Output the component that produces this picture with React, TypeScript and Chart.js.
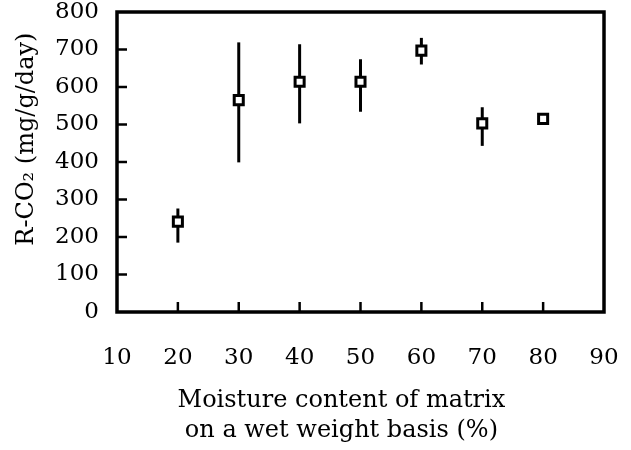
import { useEffect, useRef } from "react";
import { Chart, registerables } from "chart.js";

Chart.register(...registerables);

const moisture = [20, 30, 40, 50, 60, 70, 80];
const rco2 = [241, 565, 614, 614, 697, 503, 515];
const errLow: (number | null)[] = [185, 399, 503, 534, 660, 443, null];
const errHigh: (number | null)[] = [276, 719, 714, 674, 731, 546, null];
const xTickValues = [10, 20, 30, 40, 50, 60, 70, 80, 90];
const yTickValues = [0, 100, 200, 300, 400, 500, 600, 700, 800];
const xTitle = ["Moisture content of matrix", "on a wet weight basis (%)"];
const yTitle = "R-CO\u2082 (mg/g/day)";

const NB = "\u00a0";

const framePlugin = {
  id: "frameAndErrors",
  beforeDatasetsDraw(chart: any) {
    const { ctx, chartArea: a, scales } = chart;
    const x = scales.x;
    const y = scales.y;
    ctx.save();
    ctx.strokeStyle = "#000";
    ctx.lineCap = "butt";
    // error bars
    ctx.lineWidth = 3;
    moisture.forEach((m, i) => {
      const lo = errLow[i];
      const hi = errHigh[i];
      if (lo == null || hi == null) return;
      const px = x.getPixelForValue(m);
      ctx.beginPath();
      ctx.moveTo(px, y.getPixelForValue(lo));
      ctx.lineTo(px, y.getPixelForValue(hi));
      ctx.stroke();
    });
    // inward ticks
    ctx.lineWidth = 2.5;
    yTickValues.slice(1, -1).forEach((v) => {
      const py = y.getPixelForValue(v);
      ctx.beginPath();
      ctx.moveTo(a.left, py);
      ctx.lineTo(a.left + 10, py);
      ctx.stroke();
    });
    xTickValues.slice(1, -1).forEach((v) => {
      const px = x.getPixelForValue(v);
      ctx.beginPath();
      ctx.moveTo(px, a.bottom);
      ctx.lineTo(px, a.bottom - 10);
      ctx.stroke();
    });
    // frame
    ctx.lineWidth = 3.5;
    ctx.strokeRect(a.left, a.top, a.right - a.left, a.bottom - a.top);
    ctx.restore();
  },
};

export default function App() {
  const ref = useRef<HTMLCanvasElement | null>(null);

  useEffect(() => {
    if (!ref.current) return;
    const tickFont = { family: "'DejaVu Serif', serif", size: 23, lineHeight: 1 };
    const titleFont = { family: "'DejaVu Serif', serif", size: 24, lineHeight: 1.25 };
    const chart = new Chart(ref.current, {
      type: "scatter",
      data: {
        datasets: [
          {
            data: moisture.map((m, i) => ({ x: m, y: rco2[i] })),
            pointStyle: "rect",
            pointRadius: 6.4,
            pointHoverRadius: 6.4,
            pointBorderWidth: 3,
            pointBackgroundColor: "#fff",
            pointBorderColor: "#000",
            showLine: false,
          },
        ],
      },
      options: {
        animation: false,
        responsive: true,
        maintainAspectRatio: false,
        color: "#000",
        layout: { padding: { top: 12, right: 27, left: 0, bottom: 0 } },
        plugins: {
          legend: { display: false },
          tooltip: { enabled: false },
        },
        events: [],
        scales: {
          x: {
            type: "linear",
            min: 10,
            max: 90,
            afterBuildTicks: (s: any) => {
              s.ticks = xTickValues.map((v) => ({ value: v }));
            },
            grid: { display: false, drawTicks: false },
            border: { display: false },
            ticks: { font: tickFont, color: "#000", padding: 35, maxRotation: 0, autoSkip: false },
            title: {
              display: true,
              text: xTitle.map((t) => t + NB.repeat(5)),
              font: titleFont,
              color: "#000",
              padding: { top: 0, bottom: 4 },
            },
            afterFit: (s: any) => {
              s.height = 138;
              s.paddingLeft = 0;
              s.paddingRight = 0;
            },
          },
          y: {
            type: "linear",
            min: 0,
            max: 800,
            afterBuildTicks: (s: any) => {
              s.ticks = yTickValues.map((v) => ({ value: v }));
            },
            grid: { display: false, drawTicks: false },
            border: { display: false },
            ticks: { font: tickFont, color: "#000", padding: 18 },
            title: {
              display: true,
              text: NB.repeat(6) + yTitle,
              font: titleFont,
              color: "#000",
              padding: { top: 12, bottom: 0 },
            },
            afterFit: (s: any) => {
              s.width = 117;
              s.paddingTop = 0;
              s.paddingBottom = 0;
            },
          },
        },
      },
      plugins: [framePlugin],
    } as any);
    return () => chart.destroy();
  }, []);

  return (
    <div style={{ position: "fixed", left: 0, top: 0, width: 631, height: 450, background: "#fff" }}>
      <canvas ref={ref} />
    </div>
  );
}
